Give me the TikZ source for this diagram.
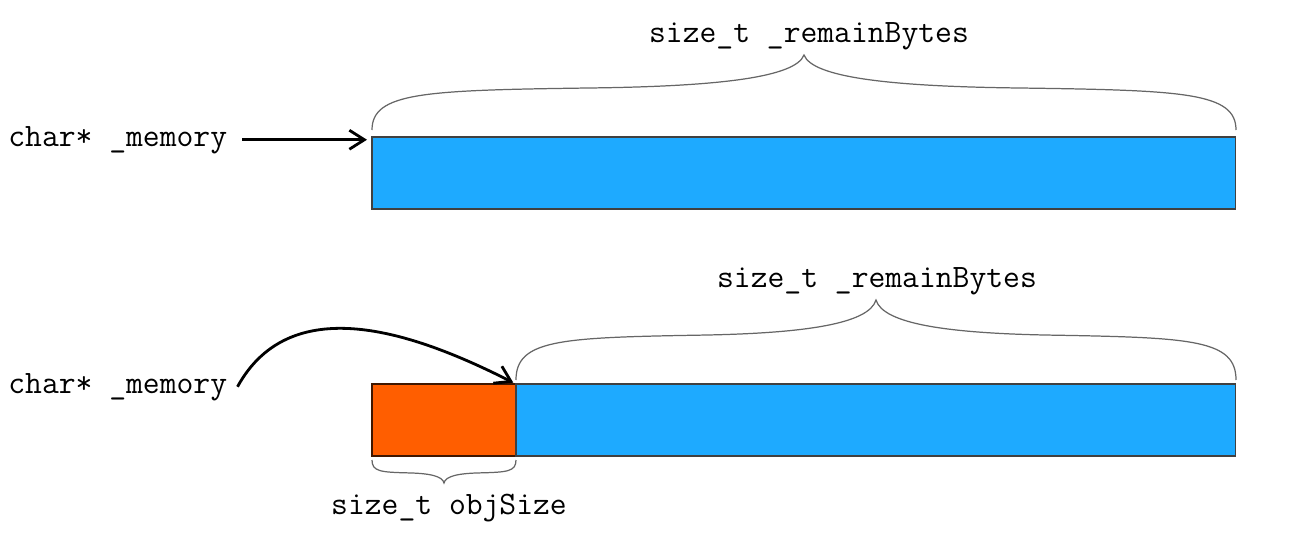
\documentclass[tikz,border=0pt]{standalone}
\usepackage{fontspec}
\usepackage{tikz}
\usetikzlibrary{arrows.meta,positioning,calc}

\definecolor{memblue}{RGB}{30,170,255}
\definecolor{memorange}{RGB}{255,94,0}

% curly brace from x1 to x2 at height y, tip offset h (pixel units)
\newcommand{\membrace}[4]{%
  \draw[bracestyle] (#1,#3)
    .. controls ({#1},{#3+0.5*#4}) and ({#1+0.06*(#2-#1)},{#3+0.53*#4}) .. ({#1+0.25*(#2-#1)},{#3+0.56*#4})
    .. controls ({#1+0.40*(#2-#1)},{#3+0.58*#4}) and ({#1+0.49*(#2-#1)},{#3+0.7*#4}) .. ({#1+0.5*(#2-#1)},{#3+#4})
    .. controls ({#1+0.51*(#2-#1)},{#3+0.7*#4}) and ({#1+0.60*(#2-#1)},{#3+0.58*#4}) .. ({#1+0.75*(#2-#1)},{#3+0.56*#4})
    .. controls ({#1+0.94*(#2-#1)},{#3+0.53*#4}) and ({#2},{#3+0.5*#4}) .. ({#2},{#3});
}

\tikzset{
  codetext/.style={font=\ttfamily\fontsize{18.6}{20}\selectfont, inner sep=0pt},
  memblock/.style={draw=black!75, line width=0.6pt, minimum height=1.44cm,
    inner sep=0pt, outer sep=0pt, anchor=north west},
  bracestyle/.style={draw=black!60, line width=0.7pt},
  ptr/.style={-{Straight Barb[length=0.3cm,width=0.38cm]}, line width=1.6pt}
}

\begin{document}
\begin{tikzpicture}[x=0.02cm,y=-0.02cm]
  \useasboundingbox (0,0) rectangle (1299,555);

  % whole buffer
  \node[memblock, fill=memblue, minimum width=17.28cm] (buf1) at (372,137) {};
  \node[codetext, anchor=base west] (mem1) at (8,146) {char* \_memory};
  \node[codetext, anchor=base] (remain1) at (809,42) {size\_t \_remainBytes};
  \membrace{372}{1236}{130}{-75}
  \draw[ptr, shorten <=0.3cm, shorten >=0.1cm] (mem1.east) -- (mem1.east -| buf1.west);

  % after one allocation
  \node[memblock, fill=memorange, draw=black!75!memorange, minimum width=2.88cm] (obj2) at (372,384) {};
  \node[memblock, fill=memblue, minimum width=14.4cm] (buf2) at (516,384) {};
  \node[codetext, anchor=base west] (mem2) at (8,393) {char* \_memory};
  \node[codetext, anchor=base] (remain2) at (877,287) {size\_t \_remainBytes};
  \node[codetext, anchor=base] (objsize) at (449,514) {size\_t objSize};
  \membrace{516}{1236}{380}{-80}
  \membrace{372}{516}{460}{23}
  \draw[ptr, shorten >=0.06cm] ([xshift=0.2cm]mem2.east) .. controls +(55,-100) and +(-95,-48) .. (buf2.north west);
\end{tikzpicture}
\end{document}
